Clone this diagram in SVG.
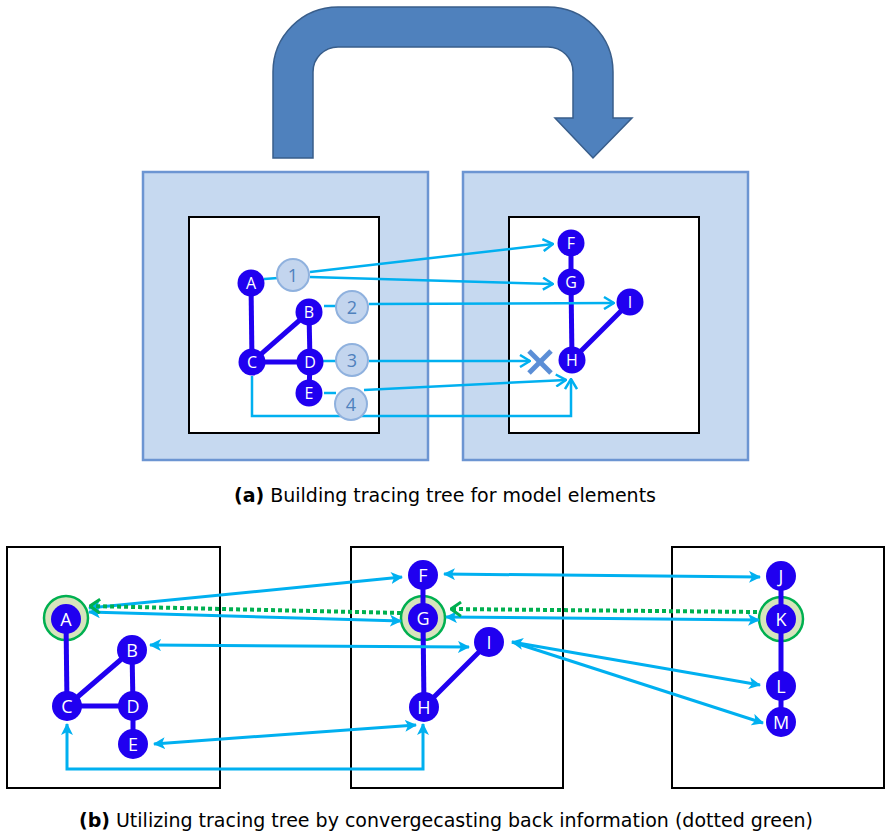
<svg xmlns="http://www.w3.org/2000/svg" width="885" height="834" viewBox="0 0 885 834">
<style>
.outer{fill:#C6D9F0;stroke:#6C95D2;stroke-width:2.5}
.inner{fill:#fff;stroke:#000;stroke-width:2}
.node circle{fill:#2000F0}
.node text{fill:#fff;font-family:"Open Sans","Liberation Sans",sans-serif;font-size:16px;text-anchor:middle;dominant-baseline:central}
.bnode text{font-size:18px}
.edge{stroke:#2000F0;stroke-width:5;fill:none}
.num circle{fill:#C3D5EE;stroke:#8FB1DE;stroke-width:2}
.num text{fill:#4F81BD;font-family:"Open Sans","Liberation Sans",sans-serif;font-size:18px;text-anchor:middle;dominant-baseline:central}
.c1{stroke:#00B0F0;stroke-width:2.5;fill:none}
.c2{stroke:#00B0F0;stroke-width:3;fill:none}
.gd{stroke:#00B050;stroke-width:4;fill:none;stroke-dasharray:4 3}
.ring{fill:#D7E4BD;stroke:#00B050;stroke-width:2.5}
.cap{font-family:"DejaVu Sans",sans-serif;font-size:19px;fill:#000;text-anchor:middle}
</style>
<defs>
<marker id="open" viewBox="0 0 12 14" refX="11" refY="7" markerWidth="12" markerHeight="14" markerUnits="userSpaceOnUse" orient="auto">
<polyline points="1,1 11,7 1,13" fill="none" stroke="#00B0F0" stroke-width="2.5"/>
</marker>
<marker id="tri" viewBox="0 0 12 12" refX="11" refY="6" markerWidth="12" markerHeight="12" markerUnits="userSpaceOnUse" orient="auto-start-reverse">
<path d="M0,0 L12,6 L0,12 L3,6 Z" fill="#00B0F0"/>
</marker>
<marker id="gopen" viewBox="0 0 12 16" refX="11" refY="8" markerWidth="12" markerHeight="16" markerUnits="userSpaceOnUse" orient="auto">
<polyline points="1,1 11,8 1,15" fill="none" stroke="#00B050" stroke-width="3"/>
</marker>
</defs>
<rect width="885" height="834" fill="#fff"/>

<!-- Big U arrow -->
<path id="uarrow" d="M273,158 L273,72 A65,65 0 0 1 338,7 L548,7 A65,65 0 0 1 613,72 L613,118 L632,118 L593,158 L555,118 L573,118 L573,72 A25,25 0 0 0 548,47 L338,47 A25,25 0 0 0 313,72 L313,158 Z" fill="#4F81BD" stroke="#385D8A" stroke-width="1.5"/>

<!-- Top panels -->
<g id="panel-a-left">
<rect class="outer" x="143" y="172" width="285" height="288"/>
<rect class="inner" x="189" y="217" width="190" height="216"/>
</g>
<g id="panel-a-right">
<rect class="outer" x="463" y="172" width="285" height="288"/>
<rect class="inner" x="509" y="217" width="190" height="216"/>
</g>

<!-- Top tree edges -->
<g id="top-tree-edges">
<line class="edge" x1="251" y1="283" x2="252" y2="362"/>
<line class="edge" x1="309" y1="312" x2="252" y2="362"/>
<line class="edge" x1="309" y1="312" x2="310" y2="362"/>
<line class="edge" x1="252" y1="362" x2="310" y2="362"/>
<line class="edge" x1="310" y1="362" x2="309" y2="393"/>
<line class="edge" x1="571" y1="243" x2="571" y2="282"/>
<line class="edge" x1="571" y1="282" x2="572" y2="360"/>
<line class="edge" x1="572" y1="360" x2="630" y2="302"/>
</g>

<!-- Top connectors -->
<g id="top-connectors">
<line class="c1" x1="264" y1="279" x2="278" y2="278"/>
<line class="c1" x1="310" y1="272" x2="553" y2="244" marker-end="url(#open)"/>
<line class="c1" x1="310" y1="277" x2="553" y2="284" marker-end="url(#open)"/>
<line class="c1" x1="324" y1="306" x2="336" y2="306"/>
<line class="c1" x1="369" y1="304" x2="614" y2="303" marker-end="url(#open)"/>
<line class="c1" x1="323" y1="361" x2="336" y2="361"/>
<line class="c1" x1="369" y1="361" x2="530" y2="361" marker-end="url(#open)"/>
<line class="c1" x1="324" y1="393" x2="336" y2="393"/>
<line class="c1" x1="364" y1="390" x2="566" y2="380" marker-end="url(#open)"/>
<polyline class="c1" points="252,376 252,416 571,416 571,379" marker-end="url(#open)"/>
</g>

<!-- X mark -->
<g id="xmark" stroke="#5B8ED6" stroke-width="5" stroke-linecap="butt">
<line x1="529" y1="351" x2="551" y2="373"/>
<line x1="551" y1="351" x2="529" y2="373"/>
</g>

<!-- Numbered circles -->
<g id="n1" class="num"><circle cx="293" cy="275" r="16"/><text x="293" y="275">1</text></g>
<g id="n2" class="num"><circle cx="352" cy="307" r="16"/><text x="352" y="307">2</text></g>
<g id="n3" class="num"><circle cx="352" cy="360" r="16"/><text x="352" y="360">3</text></g>
<g id="n4" class="num"><circle cx="351" cy="404" r="16"/><text x="351" y="404">4</text></g>

<!-- Top nodes -->
<g id="ta" class="node"><circle cx="251" cy="283" r="13.5"/><text x="251" y="283">A</text></g>
<g id="tb" class="node"><circle cx="309" cy="312" r="13.5"/><text x="309" y="312">B</text></g>
<g id="tc" class="node"><circle cx="252" cy="362" r="13.5"/><text x="252" y="362">C</text></g>
<g id="td" class="node"><circle cx="310" cy="362" r="13.5"/><text x="310" y="362">D</text></g>
<g id="te" class="node"><circle cx="309" cy="393" r="13.5"/><text x="309" y="393">E</text></g>
<g id="tf" class="node"><circle cx="571" cy="243" r="13.5"/><text x="571" y="243">F</text></g>
<g id="tg" class="node"><circle cx="571" cy="282" r="13.5"/><text x="571" y="282">G</text></g>
<g id="th" class="node"><circle cx="572" cy="360" r="13.5"/><text x="572" y="360">H</text></g>
<g id="ti" class="node"><circle cx="630" cy="302" r="13.5"/><text x="630" y="302">I</text></g>

<text class="cap" x="445" y="502"><tspan font-weight="bold">(a)</tspan> Building tracing tree for model elements</text>

<!-- Bottom panels -->
<g id="panel-b1"><rect class="inner" x="7" y="547" width="213" height="241"/></g>
<g id="panel-b2"><rect class="inner" x="351" y="547" width="212" height="241"/></g>
<g id="panel-b3"><rect class="inner" x="672" y="547" width="212" height="241"/></g>

<!-- rings -->
<g id="rings">
<circle class="ring" cx="66" cy="618" r="22"/>
<circle class="ring" cx="423" cy="618" r="22"/>
<circle class="ring" cx="781" cy="619" r="22"/>
</g>

<!-- Bottom tree edges -->
<g id="bottom-tree-edges">
<line class="edge" x1="66" y1="619" x2="67" y2="706"/>
<line class="edge" x1="132" y1="650" x2="67" y2="706"/>
<line class="edge" x1="132" y1="650" x2="133" y2="706"/>
<line class="edge" x1="67" y1="706" x2="133" y2="706"/>
<line class="edge" x1="133" y1="706" x2="133" y2="744"/>
<line class="edge" x1="423" y1="575" x2="423" y2="618"/>
<line class="edge" x1="423" y1="618" x2="424" y2="707"/>
<line class="edge" x1="424" y1="707" x2="489" y2="642"/>
<line class="edge" x1="781" y1="576" x2="781" y2="619"/>
<line class="edge" x1="781" y1="619" x2="781" y2="686"/>
<line class="edge" x1="781" y1="686" x2="781" y2="722"/>
</g>

<!-- Bottom connectors -->
<g id="bottom-connectors">
<line class="c2" x1="89" y1="608" x2="402" y2="577" marker-start="url(#tri)" marker-end="url(#tri)"/>
<line class="c2" x1="89" y1="612" x2="401" y2="621" marker-start="url(#tri)" marker-end="url(#tri)"/>
<line class="c2" x1="444" y1="574" x2="760" y2="577" marker-start="url(#tri)" marker-end="url(#tri)"/>
<line class="c2" x1="446" y1="617" x2="759" y2="620" marker-start="url(#tri)" marker-end="url(#tri)"/>
<line class="c2" x1="150" y1="645" x2="469" y2="647" marker-start="url(#tri)" marker-end="url(#tri)"/>
<line class="c2" x1="154" y1="744" x2="416" y2="725" marker-start="url(#tri)" marker-end="url(#tri)"/>
<polyline class="c2" points="67,724 67,769 423,769 423,724" marker-start="url(#tri)" marker-end="url(#tri)"/>
<line class="c2" x1="512" y1="642" x2="760" y2="685" marker-start="url(#tri)" marker-end="url(#tri)"/>
<line class="c2" x1="512" y1="642" x2="763" y2="723" marker-end="url(#tri)"/>
<line class="gd" x1="757" y1="612" x2="451" y2="609" marker-end="url(#gopen)"/>
<line class="gd" x1="401" y1="613" x2="90" y2="606" marker-end="url(#gopen)"/>
</g>

<!-- Bottom nodes -->
<g id="ba" class="node bnode"><circle cx="66" cy="619" r="15"/><text x="66" y="619">A</text></g>
<g id="bb" class="node bnode"><circle cx="132" cy="650" r="15"/><text x="132" y="650">B</text></g>
<g id="bc" class="node bnode"><circle cx="67" cy="706" r="15"/><text x="67" y="706">C</text></g>
<g id="bd" class="node bnode"><circle cx="133" cy="706" r="15"/><text x="133" y="706">D</text></g>
<g id="be" class="node bnode"><circle cx="133" cy="744" r="15"/><text x="133" y="744">E</text></g>
<g id="bf" class="node bnode"><circle cx="423" cy="575" r="15"/><text x="423" y="575">F</text></g>
<g id="bg" class="node bnode"><circle cx="423" cy="618" r="15"/><text x="423" y="618">G</text></g>
<g id="bh" class="node bnode"><circle cx="424" cy="707" r="15"/><text x="424" y="707">H</text></g>
<g id="bi" class="node bnode"><circle cx="489" cy="642" r="15"/><text x="489" y="642">I</text></g>
<g id="bj" class="node bnode"><circle cx="781" cy="576" r="15"/><text x="781" y="576">J</text></g>
<g id="bk" class="node bnode"><circle cx="781" cy="619" r="15"/><text x="781" y="619">K</text></g>
<g id="bl" class="node bnode"><circle cx="781" cy="686" r="15"/><text x="781" y="686">L</text></g>
<g id="bm" class="node bnode"><circle cx="781" cy="722" r="15"/><text x="781" y="722">M</text></g>

<text class="cap" x="446" y="827"><tspan font-weight="bold">(b)</tspan> Utilizing tracing tree by convergecasting back information (dotted green)</text>
</svg>
